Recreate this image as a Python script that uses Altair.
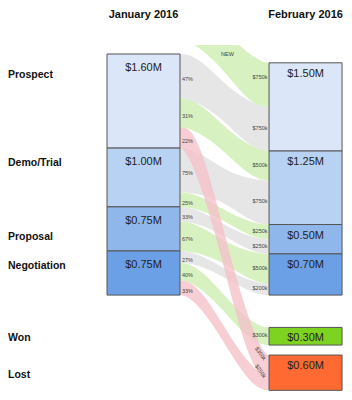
import math
import altair as alt
import pandas as pd

# ---------------- data ----------------
columns = ["January 2016", "February 2016"]
stages = ["Prospect", "Demo/Trial", "Proposal", "Negotiation", "Won", "Lost"]
terminal = [False, False, False, False, True, True]
jan_values = [1.60, 1.00, 0.75, 0.75]                  # $M
feb_values = [1.50, 1.25, 0.50, 0.70, 0.30, 0.60]      # $M

flow_source = ["NEW", "Prospect", "Prospect", "Prospect", "Demo/Trial", "Demo/Trial",
               "Proposal", "Proposal", "Negotiation", "Negotiation", "Negotiation"]
flow_target = ["Prospect", "Prospect", "Demo/Trial", "Lost", "Demo/Trial", "Proposal",
               "Proposal", "Negotiation", "Negotiation", "Won", "Lost"]
flow_value = [0.75, 0.75, 0.50, 0.35, 0.75, 0.25, 0.25, 0.50, 0.20, 0.30, 0.25]
flow_kind = ["new", "stay", "advance", "lost", "stay", "advance", "stay", "advance",
             "stay", "advance", "lost"]

stage_colors = ["#dbe7f8", "#b8d2f3", "#8fb7ec", "#6ca0e6", "#7ed321", "#ff6a33"]

# ---------------- layout constants ----------------
W, H = 352, 400
PX_PER_M = 58.8          # pixels per $1M
PX_PER_COL = 73.0        # pixels per column width
LEFT_PX = 107            # left column left edge
TOP_PX = 54              # top of January stack
XR = 2.22                # February column left edge, in column widths
WON_GAP = 0.55
LOST_GAP = 0.17
NEW_GAP = 0.25
CLIP = -0.153
FONT = "Liberation Sans"

xs = alt.Scale(domain=[-LEFT_PX / PX_PER_COL, (W - LEFT_PX) / PX_PER_COL], nice=False, zero=False)
ys = alt.Scale(domain=[-TOP_PX / PX_PER_M, (H - TOP_PX) / PX_PER_M], nice=False, zero=False, reverse=True)

def X(f):
    return alt.X(f, type="quantitative", scale=xs, axis=None)

def Y(f):
    return alt.Y(f, type="quantitative", scale=ys, axis=None)

# ---------------- nodes ----------------
left, right = {}, {}
y = 0.0
for s, v in zip(stages, jan_values):
    left[s] = (y, y + v)
    y += v
left_total = y
y = left_total - sum(feb_values[:4])
for s, v in zip(stages, feb_values):
    if s == "Won":
        y = left_total + WON_GAP
    if s == "Lost":
        y += LOST_GAP
    right[s] = (y, y + v)
    y += v

node_rows = []
for i, (s, v) in enumerate(zip(stages, jan_values)):
    node_rows.append(dict(col=columns[0], stage=s, value=v, top=left[s][0], bottom=left[s][1],
                          x0=0.0, x1=1.0, color=stage_colors[i], terminal=terminal[i]))
for i, (s, v) in enumerate(zip(stages, feb_values)):
    node_rows.append(dict(col=columns[1], stage=s, value=v, top=right[s][0], bottom=right[s][1],
                          x0=XR, x1=XR + 1.0, color=stage_colors[i], terminal=terminal[i]))
nodes = pd.DataFrame(node_rows)
nodes["center"] = (nodes["top"] + nodes["bottom"]) / 2
nodes["xc"] = (nodes["x0"] + nodes["x1"]) / 2

titles = pd.DataFrame({"title": columns, "xc": [0.5, XR + 0.5]})

# ---------------- flows ----------------
idx = {s: i for i, s in enumerate(stages)}
idx["NEW"] = -1
n = len(flow_value)
src_cur = {s: left[s][0] for s in left}
src_cur["NEW"] = -NEW_GAP - sum(v for s, v in zip(flow_source, flow_value) if s == "NEW")
tgt_cur = {s: right[s][0] for s in right}
a_top, b_top = [0.0] * n, [0.0] * n
for i in sorted(range(n), key=lambda i: (idx[flow_source[i]], idx[flow_target[i]])):
    a_top[i] = src_cur[flow_source[i]]
    src_cur[flow_source[i]] += flow_value[i]
for i in sorted(range(n), key=lambda i: (idx[flow_target[i]], idx[flow_source[i]])):
    b_top[i] = tgt_cur[flow_target[i]]
    tgt_cur[flow_target[i]] += flow_value[i]

flows = pd.DataFrame({
    "id": [f"f{i}" for i in range(n)], "source": flow_source, "target": flow_target,
    "value": flow_value, "kind": flow_kind, "a_top": a_top, "b_top": b_top,
})
flows["a_c"] = flows["a_top"] + flows["value"] / 2
flows["b_c"] = flows["b_top"] + flows["value"] / 2
flows["pct"] = [v / jan_values[idx[s]] if s in left else 0.0 for s, v in zip(flow_source, flow_value)]

# ribbon geometry (smooth S-curves between the columns)
rib = []
steps = 60
for r in flows.itertuples():
    for k in range(steps + 1):
        f = k / steps
        s = 3 * f * f - 2 * f ** 3
        c = r.a_c + (r.b_c - r.a_c) * s
        slope = (r.b_c - r.a_c) * PX_PER_M * 6 * f * (1 - f) / ((XR - 1) * PX_PER_COL)
        cos = 1 / math.sqrt(1 + slope * slope)
        v = r.value * (1 - 0.27 * math.sin(math.pi * f) ** 2) / cos ** 0.65
        ya, yb = c - v / 2, c + v / 2
        rib.append(dict(id=r.id, kind=r.kind, x=1 + (XR - 1) * f,
                        ya=max(ya, CLIP), yb=max(yb, CLIP)))
ribbons = pd.DataFrame(rib)

def band(kinds, color, opacity=1.0):
    return alt.Chart(ribbons).transform_filter(
        alt.FieldOneOfPredicate(field="kind", oneOf=kinds)
    ).mark_area(color=color, opacity=opacity).encode(
        x=X("x"), y=Y("ya"), y2=alt.Y2("yb"), detail="id:N"
    )

gray = band(["stay"], "#e6e6e6")
green = band(["new", "advance"], "#d8f1c0")
pink = band(["lost"], "#f4c2c9", 0.8)

boxes = alt.Chart(nodes).mark_rect(stroke="#555555", strokeWidth=1).encode(
    x=X("x0"), x2=alt.X2("x1"), y=Y("top"), y2=alt.Y2("bottom"),
    color=alt.Color("color:N", scale=None),
)

box_txt = alt.Chart(nodes).transform_calculate(
    label="'$' + format(datum.value, '.2f') + 'M'"
)
box_left = box_txt.transform_filter(alt.datum.col == columns[0]).mark_text(
    font=FONT, fontSize=11, color="#222222", baseline="middle", dy=14
).encode(x=X("xc"), y=Y("top"), text="label:N")
box_right = box_txt.transform_filter(alt.datum.col == columns[1]).mark_text(
    font=FONT, fontSize=11, color="#222222", baseline="middle", dy=11
).encode(x=X("xc"), y=Y("top"), text="label:N")

title_txt = alt.Chart(titles).mark_text(
    font=FONT, fontSize=11, fontWeight="bold", color="#111111", baseline="middle"
).encode(x=X("xc"), y=alt.value(15), text="title:N")

feb_nodes = alt.Chart(nodes).transform_filter(alt.datum.col == columns[1])
row_pipe = feb_nodes.transform_filter("!datum.terminal").mark_text(
    font=FONT, fontSize=10.5, fontWeight="bold", color="#111111", align="left", baseline="middle", dy=12
).encode(x=alt.value(8), y=Y("top"), text="stage:N")
row_term = feb_nodes.transform_filter("datum.terminal").mark_text(
    font=FONT, fontSize=10.5, fontWeight="bold", color="#111111", align="left", baseline="middle", dy=2
).encode(x=alt.value(8), y=Y("center"), text="stage:N")

flow_base = alt.Chart(flows).transform_calculate(
    xl="1", xr=str(XR), xm=str((1 + XR) / 2), clip=str(CLIP),
    k="'$' + format(datum.value * 1000, '.0f') + 'k'"
)
pct_txt = flow_base.transform_filter("datum.source != 'NEW'").mark_text(
    font=FONT, fontSize=5.5, color="#444444", align="left", baseline="middle", dx=2, dy=3
).encode(x=X("xl"), y=Y("a_c"), text=alt.Text("pct:Q", format=".0%"))

k_txt = flow_base.transform_filter(
    "datum.kind != 'lost' && datum.kind != 'new'"
).mark_text(
    font=FONT, fontSize=5.5, color="#444444", align="right", baseline="middle", dx=-1.5, dy=-1
).encode(x=X("xr"), y=Y("b_c"), text="k:N")

k_lost = flow_base.transform_filter("datum.kind == 'lost'").mark_text(
    font=FONT, fontSize=5.5, color="#444444", align="right", baseline="middle", angle=55, dx=-7
).encode(x=X("xr"), y=Y("b_c"), text="k:N")

new_k = flow_base.transform_filter("datum.kind == 'new'").mark_text(
    font=FONT, fontSize=5.5, color="#444444", align="right", baseline="middle", dx=-1.5, dy=14
).encode(x=X("xr"), y=Y("b_top"), text="k:N")

new_lbl = flow_base.transform_filter("datum.kind == 'new'").mark_text(
    font=FONT, fontSize=5.5, color="#444444", align="center", baseline="middle", dy=9, dx=3
).encode(x=X("xm"), y=Y("clip"), text=alt.value("NEW"))

chart = alt.layer(
    gray, green, pink, boxes, box_left, box_right, title_txt, row_pipe, row_term,
    pct_txt, k_txt, k_lost, new_k, new_lbl
).properties(
    width=W, height=H, padding=0, autosize=alt.AutoSizeParams(type="none"),
    background="white",
).configure_view(stroke=None)

chart.save("out.html", embed_options={"renderer": "svg", "actions": False})
